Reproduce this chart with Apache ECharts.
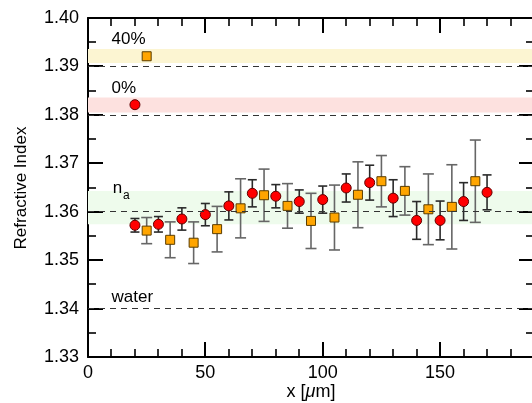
<!DOCTYPE html>
<html>
<head>
<meta charset="utf-8">
<script src="https://cdn.jsdelivr.net/npm/echarts@6/dist/echarts.min.js"></script>
<style>
  html, body { margin: 0; padding: 0; background: #fff; }
  #main { width: 532px; height: 403px; }
</style>
</head>
<body>
<div id="main"></div>
<script>
// measured points (x in um, refractive index, +/- error)
var circleX = [20, 30, 40, 50, 60, 70, 80, 90, 100, 110, 120, 130, 140, 150, 160, 170];
var circleY = [1.3572, 1.3574, 1.3585, 1.3594, 1.3612, 1.3638, 1.3632, 1.3621, 1.3625, 1.3649, 1.3660, 1.3628, 1.3582, 1.3582, 1.3621, 1.3640];
var circleErr = [0.0014, 0.0016, 0.0023, 0.0023, 0.0029, 0.0028, 0.0024, 0.0024, 0.0028, 0.0029, 0.0036, 0.0038, 0.0039, 0.0040, 0.0039, 0.0036];

var squareX = [25, 35, 45, 55, 65, 75, 85, 95, 105, 115, 125, 135, 145, 155, 165];
var squareY = [1.3561, 1.3542, 1.3536, 1.3564, 1.3607, 1.3634, 1.3612, 1.3581, 1.3588, 1.3635, 1.3663, 1.3643, 1.3605, 1.3610, 1.3663];
var squareErr = [0.0027, 0.0037, 0.0043, 0.0047, 0.0061, 0.0054, 0.0046, 0.0057, 0.0067, 0.0068, 0.0053, 0.0050, 0.0073, 0.0087, 0.0085];

// reference values
var pure0 = [20, 1.3821];
var pure40 = [25, 1.3921];
var refLines = [1.3921, 1.3821, 1.3608, 1.3400];
var bandYellow = [1.3907, 1.3936];
var bandPink = [1.3805, 1.3836];
var bandGreen = [1.3574, 1.3643];

// axes and ticks
var X_MIN = 0, X_MAX = 190;
var Y_MIN = 1.33, Y_MAX = 1.40;
var xMajor = [0, 50, 100, 150];
var xMinor = [10, 20, 30, 40, 60, 70, 80, 90, 110, 120, 130, 140, 160, 170, 180];
var yMajor = [1.33, 1.34, 1.35, 1.36, 1.37, 1.38, 1.39, 1.40];
var yMinor = [1.335, 1.345, 1.355, 1.365, 1.375, 1.385, 1.395];

var FONT = "'Liberation Sans', Arial, Helvetica, sans-serif";

function zip(xs, ys, es) {
    return xs.map(function (x, i) { return es ? [x, ys[i], es[i]] : [x, ys[i]]; });
}

function errBars(color, cap) {
    return function (params, api) {
        var x = api.value(0), y = api.value(1), e = api.value(2);
        var hi = api.coord([x, y + e]);
        var lo = api.coord([x, y - e]);
        var st = { stroke: color, lineWidth: 1.6 };
        return {
            type: 'group',
            children: [
                { type: 'line', shape: { x1: hi[0], y1: hi[1], x2: lo[0], y2: lo[1] }, style: st },
                { type: 'line', shape: { x1: hi[0] - cap, y1: hi[1], x2: hi[0] + cap, y2: hi[1] }, style: st },
                { type: 'line', shape: { x1: lo[0] - cap, y1: lo[1], x2: lo[0] + cap, y2: lo[1] }, style: st }
            ]
        };
    };
}

// inward ticks on all four sides (axis ticks don't show up in this build)
// kind: 0 x major, 1 x minor, 2 y major, 3 y minor
var tickData = []
    .concat(xMajor.map(function (v) { return [v, 0]; }))
    .concat(xMinor.map(function (v) { return [v, 1]; }))
    .concat(yMajor.map(function (v) { return [v, 2]; }))
    .concat(yMinor.map(function (v) { return [v, 3]; }));

function tickItem(params, api) {
    var v = api.value(0), k = api.value(1);
    var cs = params.coordSys;
    var major = (k === 0 || k === 2);
    var L = major ? 15 : 8;
    var st = { stroke: '#000', lineWidth: major ? 2 : 1.6 };
    var a, b;
    if (k < 2) {
        var px = Math.round(api.coord([v, Y_MIN])[0]);
        var bot = cs.y + cs.height, top = cs.y;
        a = { x1: px, y1: bot, x2: px, y2: bot - L };
        b = { x1: px, y1: top, x2: px, y2: top + L };
    } else {
        var py = Math.round(api.coord([X_MIN, v])[1]);
        var lft = cs.x, rgt = cs.x + cs.width;
        a = { x1: lft, y1: py, x2: lft + L, y2: py };
        b = { x1: rgt, y1: py, x2: rgt - L, y2: py };
    }
    return {
        type: 'group',
        children: [
            { type: 'line', shape: a, style: st },
            { type: 'line', shape: b, style: st }
        ]
    };
}

function xAx(pos, show) {
    return {
        type: 'value', position: pos, min: X_MIN, max: X_MAX,
        axisLine: { show: true, onZero: false, lineStyle: { color: '#000', width: 2 } },
        axisTick: { show: false },
        axisLabel: { show: show, customValues: xMajor, margin: 7,
            fontSize: 18, fontFamily: FONT, color: '#000' },
        splitLine: { show: false }
    };
}

function yAx(pos, show) {
    return {
        type: 'value', position: pos, min: Y_MIN, max: Y_MAX, interval: 0.01,
        axisLine: { show: true, onZero: false, lineStyle: { color: '#000', width: 2 } },
        axisTick: { show: false },
        axisLabel: { show: show, margin: 9, fontSize: 18, fontFamily: FONT, color: '#000',
            formatter: function (v) { return v.toFixed(2); } },
        splitLine: { show: false }
    };
}

var dashed = { type: [6, 5], color: '#333', width: 1 };

var chart = echarts.init(document.getElementById('main'));
chart.setOption({
    animation: false,
    grid: { left: 88, right: -2, top: 18, bottom: 46, outerBoundsMode: 'none', containLabel: false },
    xAxis: [xAx('bottom', true), xAx('top', false)],
    yAxis: [yAx('left', true), yAx('right', false)],
    graphic: [
        { type: 'text', x: 21, y: 188, rotation: Math.PI / 2,
          style: { text: 'Refractive Index', align: 'center', verticalAlign: 'middle',
                   fontSize: 17, fontFamily: FONT, fill: '#000' } },
        { type: 'text', x: 311, y: 392,
          style: { text: 'x [{i|μ}m]', align: 'center', verticalAlign: 'middle',
                   fontSize: 18, fontFamily: FONT, fill: '#000',
                   rich: { i: { fontSize: 18, fontFamily: FONT, fontStyle: 'italic', fill: '#000' } } } }
    ],
    series: [
        {
            name: 'bands', type: 'line', data: [],
            markArea: {
                data: [
                    [{ yAxis: bandYellow[0], itemStyle: { color: '#fcf5d2' } }, { yAxis: bandYellow[1] }],
                    [{ yAxis: bandPink[0], itemStyle: { color: '#fde1df' } }, { yAxis: bandPink[1] }],
                    [{ yAxis: bandGreen[0], itemStyle: { color: '#eefbec' } }, { yAxis: bandGreen[1] }]
                ]
            },
            markLine: {
                symbol: 'none', label: { show: false },
                lineStyle: dashed,
                data: refLines.map(function (v) { return { yAxis: v }; })
            }
        },
        {
            type: 'custom', renderItem: errBars('#666', 5.5),
            data: zip(squareX, squareY, squareErr)
        },
        {
            type: 'custom', renderItem: errBars('#2a2a2a', 4.5),
            data: zip(circleX, circleY, circleErr)
        },
        {
            type: 'scatter', symbol: 'rect', symbolSize: 9,
            itemStyle: { color: '#ffa500', borderColor: '#5a3d00', borderWidth: 1, opacity: 1 },
            data: zip(squareX, squareY).concat([pure40])
        },
        {
            type: 'scatter', symbol: 'circle', symbolSize: 10,
            itemStyle: { color: '#ff0000', borderColor: '#600000', borderWidth: 1, opacity: 1 },
            data: zip(circleX, circleY).concat([pure0])
        },
        {
            type: 'scatter', symbolSize: 0,
            label: {
                show: true, position: [0, 0], align: 'left', verticalAlign: 'middle',
                fontSize: 17, fontFamily: FONT, color: '#000', opacity: 1,
                formatter: function (p) { return p.data.t; },
                rich: { sub: { fontSize: 12, fontFamily: FONT, color: '#000', padding: [14, 0, 0, 1] } }
            },
            data: [
                { value: [10, 1.3955], t: '40%' },
                { value: [10, 1.3854], t: '0%' },
                { value: [10.5, 1.3648], t: 'n{sub|a}' },
                { value: [10, 1.3423], t: 'water' }
            ]
        },
        {
            name: 'ticks', type: 'custom', clip: false, renderItem: tickItem,
            data: tickData
        }
    ]
});
</script>
</body>
</html>
